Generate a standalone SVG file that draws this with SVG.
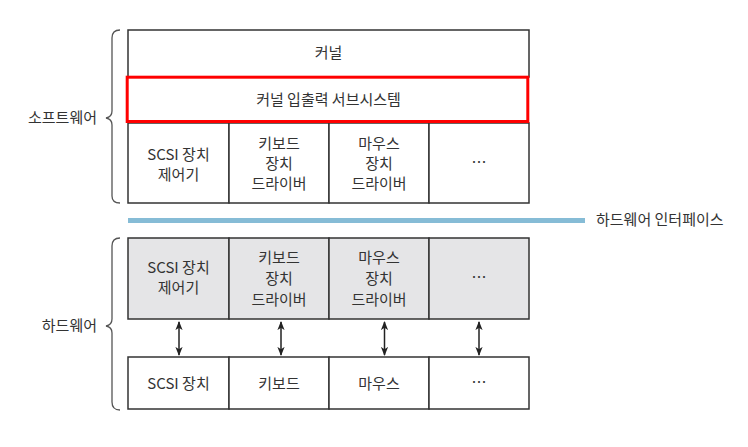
<svg xmlns="http://www.w3.org/2000/svg" width="748" height="447" viewBox="0 0 748 447">
<defs>
<style>
.t{font-family:"Noto Sans CJK KR","Liberation Sans",sans-serif;font-size:15px;fill:#333;text-anchor:middle}
.l{font-family:"Noto Sans CJK KR","Liberation Sans",sans-serif;font-size:15px;fill:#333}
.box{fill:#fff;stroke:#333;stroke-width:1.5}
.gbox{fill:#e5e5e7;stroke:#333;stroke-width:1.5}
.br{fill:none;stroke:#555;stroke-width:1.3}
.ar{stroke:#222;stroke-width:1.5;marker-start:url(#ah);marker-end:url(#ah)}
</style>
<marker id="ah" viewBox="0 0 10 10" refX="9" refY="5" markerWidth="9" markerHeight="9" orient="auto-start-reverse" markerUnits="userSpaceOnUse">
<path d="M0,1 L10,5 L0,9 L2.5,5 Z" fill="#222"/>
</marker>
</defs>
<rect width="748" height="447" fill="#fff"/>

<g id="software-brace">
<path class="br" d="M120,30 Q112,30 112,38 L112,111 Q112,117 106,118 Q112,119 112,125 L112,196 Q112,203 120,203"/>
<text class="l" x="97" y="123" text-anchor="end">소프트웨어</text>
</g>

<g id="kernel">
<rect class="box" x="128" y="30" width="401" height="47"/>
<text class="t" x="328.5" y="58">커널</text>
</g>

<g id="sw-scsi">
<rect class="box" x="128" y="123" width="101" height="80"/>
<text class="t" x="178.5" y="160">SCSI 장치</text>
<text class="t" x="178.5" y="180">제어기</text>
</g>
<g id="sw-keyboard">
<rect class="box" x="229" y="123" width="100" height="80"/>
<text class="t" x="279" y="149">키보드</text>
<text class="t" x="279" y="169">장치</text>
<text class="t" x="279" y="189">드라이버</text>
</g>
<g id="sw-mouse">
<rect class="box" x="329" y="123" width="100" height="80"/>
<text class="t" x="379" y="149">마우스</text>
<text class="t" x="379" y="169">장치</text>
<text class="t" x="379" y="189">드라이버</text>
</g>
<g id="sw-etc">
<rect class="box" x="429" y="123" width="100" height="80"/>
<text class="t" x="479" y="168">…</text>
</g>

<g id="kernel-io">
<rect x="127.2" y="77.2" width="400.6" height="44.3" fill="none" stroke="#f00" stroke-width="3"/>
<text class="t" x="328.5" y="105">커널 입출력 서브시스템</text>
</g>

<g id="hw-interface">
<line x1="128" y1="220.5" x2="585" y2="220.5" stroke="#86bcd6" stroke-width="5"/>
<text class="l" x="596" y="225">하드웨어 인터페이스</text>
</g>

<g id="hardware-brace">
<path class="br" d="M120,238 Q112,238 112,246 L112,319 Q112,325 106,326 Q112,327 112,333 L112,402 Q112,410 120,410"/>
<text class="l" x="97" y="331" text-anchor="end">하드웨어</text>
</g>

<g id="hw-scsi-ctrl">
<rect class="gbox" x="128" y="238" width="101" height="81"/>
<text class="t" x="178.5" y="273">SCSI 장치</text>
<text class="t" x="178.5" y="293">제어기</text>
</g>
<g id="hw-keyboard-ctrl">
<rect class="gbox" x="229" y="238" width="100" height="81"/>
<text class="t" x="279" y="263">키보드</text>
<text class="t" x="279" y="284">장치</text>
<text class="t" x="279" y="305">드라이버</text>
</g>
<g id="hw-mouse-ctrl">
<rect class="gbox" x="329" y="238" width="100" height="81"/>
<text class="t" x="379" y="263">마우스</text>
<text class="t" x="379" y="284">장치</text>
<text class="t" x="379" y="305">드라이버</text>
</g>
<g id="hw-etc-ctrl">
<rect class="gbox" x="429" y="238" width="100" height="81"/>
<text class="t" x="479" y="283">…</text>
</g>

<g id="dev-scsi">
<rect class="box" x="128" y="357" width="101" height="52"/>
<text class="t" x="178.5" y="389">SCSI 장치</text>
</g>
<g id="dev-keyboard">
<rect class="box" x="229" y="357" width="100" height="52"/>
<text class="t" x="279" y="389">키보드</text>
</g>
<g id="dev-mouse">
<rect class="box" x="329" y="357" width="100" height="52"/>
<text class="t" x="379" y="389">마우스</text>
</g>
<g id="dev-etc">
<rect class="box" x="429" y="357" width="100" height="52"/>
<text class="t" x="479" y="388">…</text>
</g>

<g id="connectors">
<line class="ar" x1="179" y1="322" x2="179" y2="355"/>
<line class="ar" x1="281" y1="322" x2="281" y2="355"/>
<line class="ar" x1="384.5" y1="322" x2="384.5" y2="355"/>
<line class="ar" x1="479" y1="322" x2="479" y2="355"/>
</g>
</svg>
